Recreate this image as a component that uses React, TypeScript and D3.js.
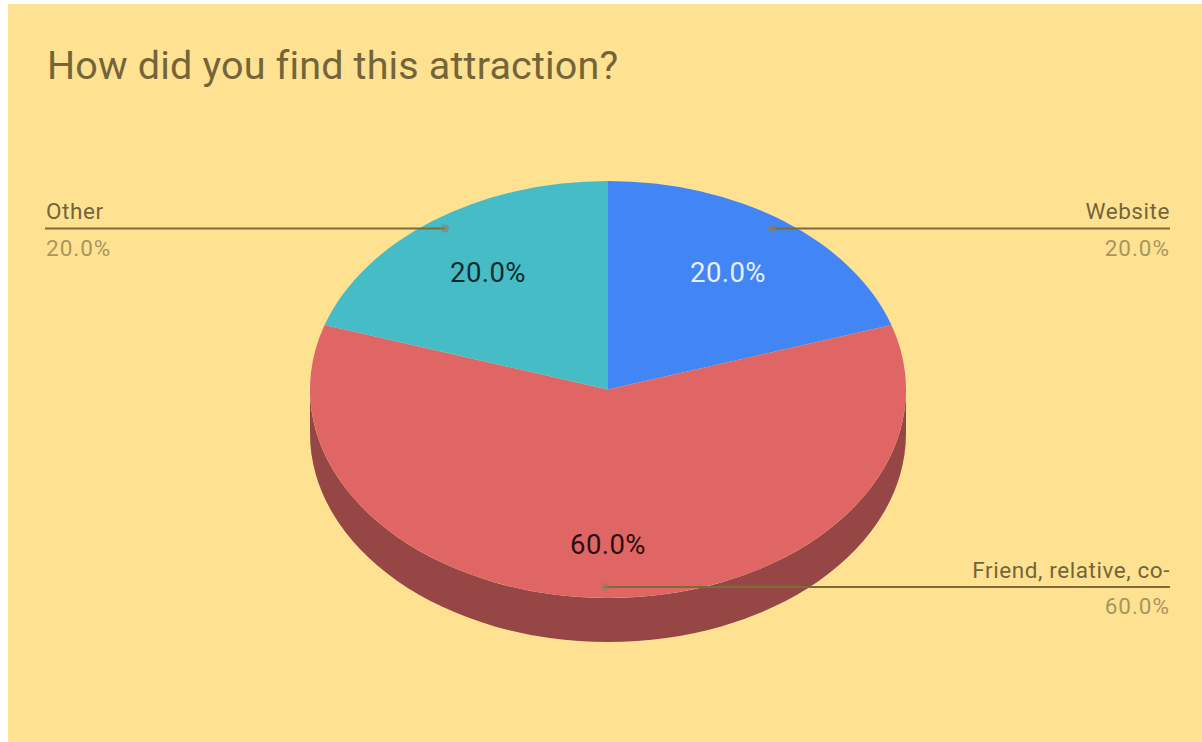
import React from "react";
import * as d3 from "d3";

const categories = ["Website", "Friend, relative, co-", "Other"];
const shares = [20, 60, 20];
const sliceColors = ["#4285f4", "#e06666", "#46bdc6"];
const insideLabelColors = ["#e8f0fe", "#2a0f0f", "#0f2b30"];
const titleText = "How did you find this attraction?";

const W = 1202;
const H = 742;
const cx = 608;
const cy = 389.5;
const rx = 298;
const ry = 208.5;
const depth = 44;
const wallColor = "#974646";
const paper = "#fee292";
const inkStrong = "#736539";
const inkSoft = "#a8955f";
const leaderInk = "#7d6c38";

// Outer label anchors for each slice: side of the chart, leader height and tip
const calloutSide = ["end", "end", "start"];
const calloutY = [228.5, 587, 228.5];
const calloutNameY = [218.5, 578, 218.5];
const calloutTipX = [772, 605, 445];
const insideLabelPos = [
  [728, 272],
  [608, 544],
  [488, 272],
];

export default function App() {
  const slices = d3.pie<number>().sort(null)(shares);
  const arc = d3.arc<d3.PieArcDatum<number>>().innerRadius(0).outerRadius(rx);
  const squash = ry / rx;

  // Lower rim of the disc, in unsquashed coordinates
  const wall = d3.path();
  wall.arc(0, 0, rx, 0, Math.PI, false);
  wall.arc(0, depth / squash, rx, Math.PI, 0, true);
  wall.closePath();

  const fmt = (v: number) => d3.format(".1f")((v / d3.sum(shares)) * 100) + "%";

  return (
    <svg
      width={W}
      height={H}
      viewBox={`0 0 ${W} ${H}`}
      style={{ position: "absolute", left: 0, top: 0, background: "#fff" }}
      fontFamily="Roboto, sans-serif"
    >
      <rect x={8} y={4} width={W - 8} height={H - 4} fill={paper} />
      <text x={47} y={79} fontSize={39.5} letterSpacing={0.16} fill={inkStrong}>
        {titleText}
      </text>

      <g transform={`translate(${cx},${cy}) scale(1,${squash})`}>
        <path d={wall.toString()} fill={wallColor} />
        {slices.map((s, i) => (
          <path key={categories[i]} d={arc(s) ?? ""} fill={sliceColors[i]} />
        ))}
      </g>

      {slices.map((s, i) => (
        <text
          key={i}
          x={insideLabelPos[i][0]}
          y={insideLabelPos[i][1]}
          dy="0.36em"
          textAnchor="middle"
          fontSize={27.5}
          letterSpacing={0.4}
          fill={insideLabelColors[i]}
        >
          {fmt(s.value)}
        </text>
      ))}

      {slices.map((s, i) => {
        const left = calloutSide[i] === "start";
        const edge = left ? 45 : 1170;
        const textX = left ? 46 : 1170;
        return (
          <g key={i}>
            <line
              x1={edge}
              x2={calloutTipX[i]}
              y1={calloutY[i]}
              y2={calloutY[i]}
              stroke={leaderInk}
              strokeWidth={2}
            />
            <circle cx={calloutTipX[i]} cy={calloutY[i]} r={4} fill="#8a7f66" opacity={0.6} />
            <text
              x={textX}
              y={calloutNameY[i]}
              textAnchor={calloutSide[i]}
              fontSize={22.5}
              letterSpacing={0.57}
              fill={inkStrong}
            >
              {categories[i]}
            </text>
            <text
              x={textX}
              y={calloutY[i] + 27}
              textAnchor={calloutSide[i]}
              fontSize={22.5}
              letterSpacing={1}
              fill={inkSoft}
            >
              {fmt(s.value)}
            </text>
          </g>
        );
      })}
    </svg>
  );
}
